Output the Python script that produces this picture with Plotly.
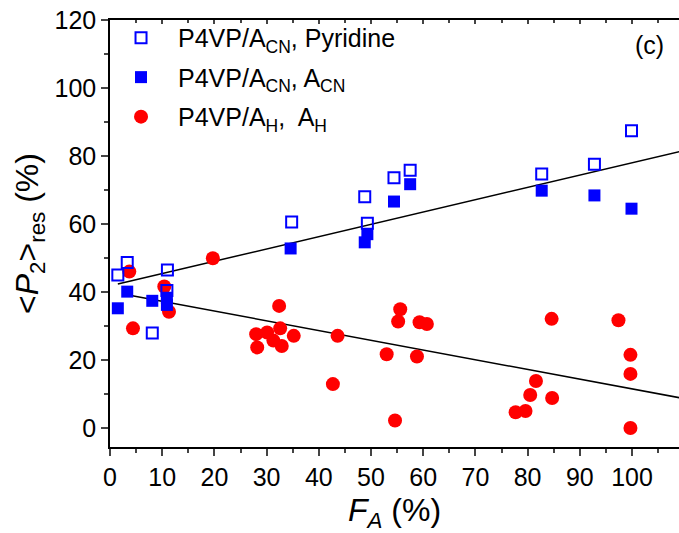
import plotly.graph_objects as go

# Data
pyr_x = [1.5, 3.3, 8.1, 10.9, 11.0, 34.8, 48.8, 49.3, 54.4, 57.5, 82.7, 92.8, 99.9]
pyr_y = [45.0, 48.7, 27.9, 40.4, 46.5, 60.6, 68.0, 60.2, 73.6, 75.8, 74.7, 77.6, 87.4]

acn_x = [1.5, 3.3, 8.1, 10.9, 10.9, 34.6, 48.8, 49.3, 54.4, 57.5, 82.7, 92.8, 99.9]
acn_y = [35.2, 40.1, 37.4, 38.3, 36.2, 52.8, 54.6, 57.0, 66.6, 71.7, 69.8, 68.4, 64.5]

ah_x = [3.7, 4.4, 10.4, 11.3, 19.7, 28.0, 28.2, 30.1, 31.3, 32.4, 32.6, 32.9, 35.2,
        42.7, 43.6, 53.0, 54.6, 55.2, 55.6, 58.8, 59.3, 60.7, 77.7, 79.6, 80.5,
        81.6, 84.6, 84.7, 97.4, 99.7, 99.7, 99.7]
ah_y = [46.0, 29.3, 41.6, 34.2, 49.9, 27.6, 23.7, 28.1, 25.7, 35.9, 29.3, 24.1, 27.1,
        12.9, 27.1, 21.7, 2.2, 31.3, 34.9, 21.0, 31.1, 30.6, 4.6, 5.0, 9.7,
        13.8, 32.1, 8.8, 31.7, 21.5, 15.9, 0.0]

# Linear fits (slope, intercept, x-span)
fit_up = dict(slope=0.362, intercept=41.8, xs=[1.5, 110])
fit_dn = dict(slope=-0.286, intercept=40.1, xs=[3.5, 110])

x_ticks = list(range(0, 101, 10))
y_ticks = list(range(0, 121, 20))

FONT = "Arial, Liberation Sans, sans-serif"

fig = go.Figure()
for f in (fit_up, fit_dn):
    fig.add_trace(go.Scatter(
        x=f["xs"], y=[f["slope"] * v + f["intercept"] for v in f["xs"]],
        mode="lines", line=dict(color="black", width=1.5), showlegend=False,
        hoverinfo="skip"))

fig.add_trace(go.Scatter(
    x=ah_x, y=ah_y, mode="markers", name="P4VP/A<sub>H</sub>,  A<sub>H</sub>",
    marker=dict(symbol="circle", size=14, color="#FF0000", line=dict(width=0)),
    legendrank=3, legendgroup="c"))
fig.add_trace(go.Scatter(
    x=acn_x, y=acn_y, mode="markers", name="P4VP/A<sub>CN</sub>, A<sub>CN</sub>",
    marker=dict(symbol="square", size=12, color="#0000FF", line=dict(width=0)),
    legendrank=2, legendgroup="b"))
fig.add_trace(go.Scatter(
    x=pyr_x, y=pyr_y, mode="markers", name="P4VP/A<sub>CN</sub>, Pyridine",
    marker=dict(symbol="square-open", size=11, color="#0000FF", line=dict(width=2)),
    legendrank=1, legendgroup="a"))

# invisible trace to drive top axis
fig.add_trace(go.Scatter(x=[0], y=[0], xaxis="x2", mode="markers",
                         marker=dict(opacity=0), showlegend=False, hoverinfo="skip"))

fig.update_layout(
    width=679, height=533,
    margin=dict(l=110, r=0, t=20, b=86),
    paper_bgcolor="white", plot_bgcolor="white",
    font=dict(family=FONT, size=25, color="black"),
    legend=dict(x=-0.0105, y=1.012, xanchor="left", yanchor="top",
                bgcolor="rgba(0,0,0,0)", font=dict(size=25),
                traceorder="grouped", tracegroupgap=4, itemwidth=64),
    xaxis=dict(range=[0, 109], tickvals=x_ticks, ticks="outside", ticklen=7,
               tickwidth=1.5, showline=True, linewidth=1.5, linecolor="black",
               showgrid=False, zeroline=False,
               minor=dict(dtick=5, ticks="outside", ticklen=4, tickwidth=1.5),
               tickfont=dict(size=25),
               title=dict(text="<i>F<sub>A</sub></i> (%)", font=dict(size=32), standoff=10)),
    xaxis2=dict(range=[0, 109], overlaying="x", side="top", anchor="y",
                tickvals=x_ticks, ticks="inside", ticklen=4, tickwidth=1.5,
                showline=True, linewidth=1.5, linecolor="black", showticklabels=False,
                showgrid=False, zeroline=False,
                minor=dict(dtick=5, ticks="inside", ticklen=3, tickwidth=1.5)),
    yaxis=dict(range=[-5.6, 120], tickvals=y_ticks, ticks="outside", ticklen=7,
               tickwidth=1.5, showline=True, linewidth=1.5, linecolor="black",
               showgrid=False, zeroline=False,
               minor=dict(dtick=10, ticks="outside", ticklen=4, tickwidth=1.5),
               tickfont=dict(size=25),
               title=dict(text="&lt;<i>P</i><sub>2</sub>&gt;<sub>res</sub> (%)",
                          font=dict(size=32), standoff=6)),
    annotations=[dict(text="(c)", x=0.949, y=0.941, xref="paper", yref="paper",
                      xanchor="center", yanchor="middle",
                      showarrow=False, font=dict(size=25))],
)

fig.write_html("out.html")
